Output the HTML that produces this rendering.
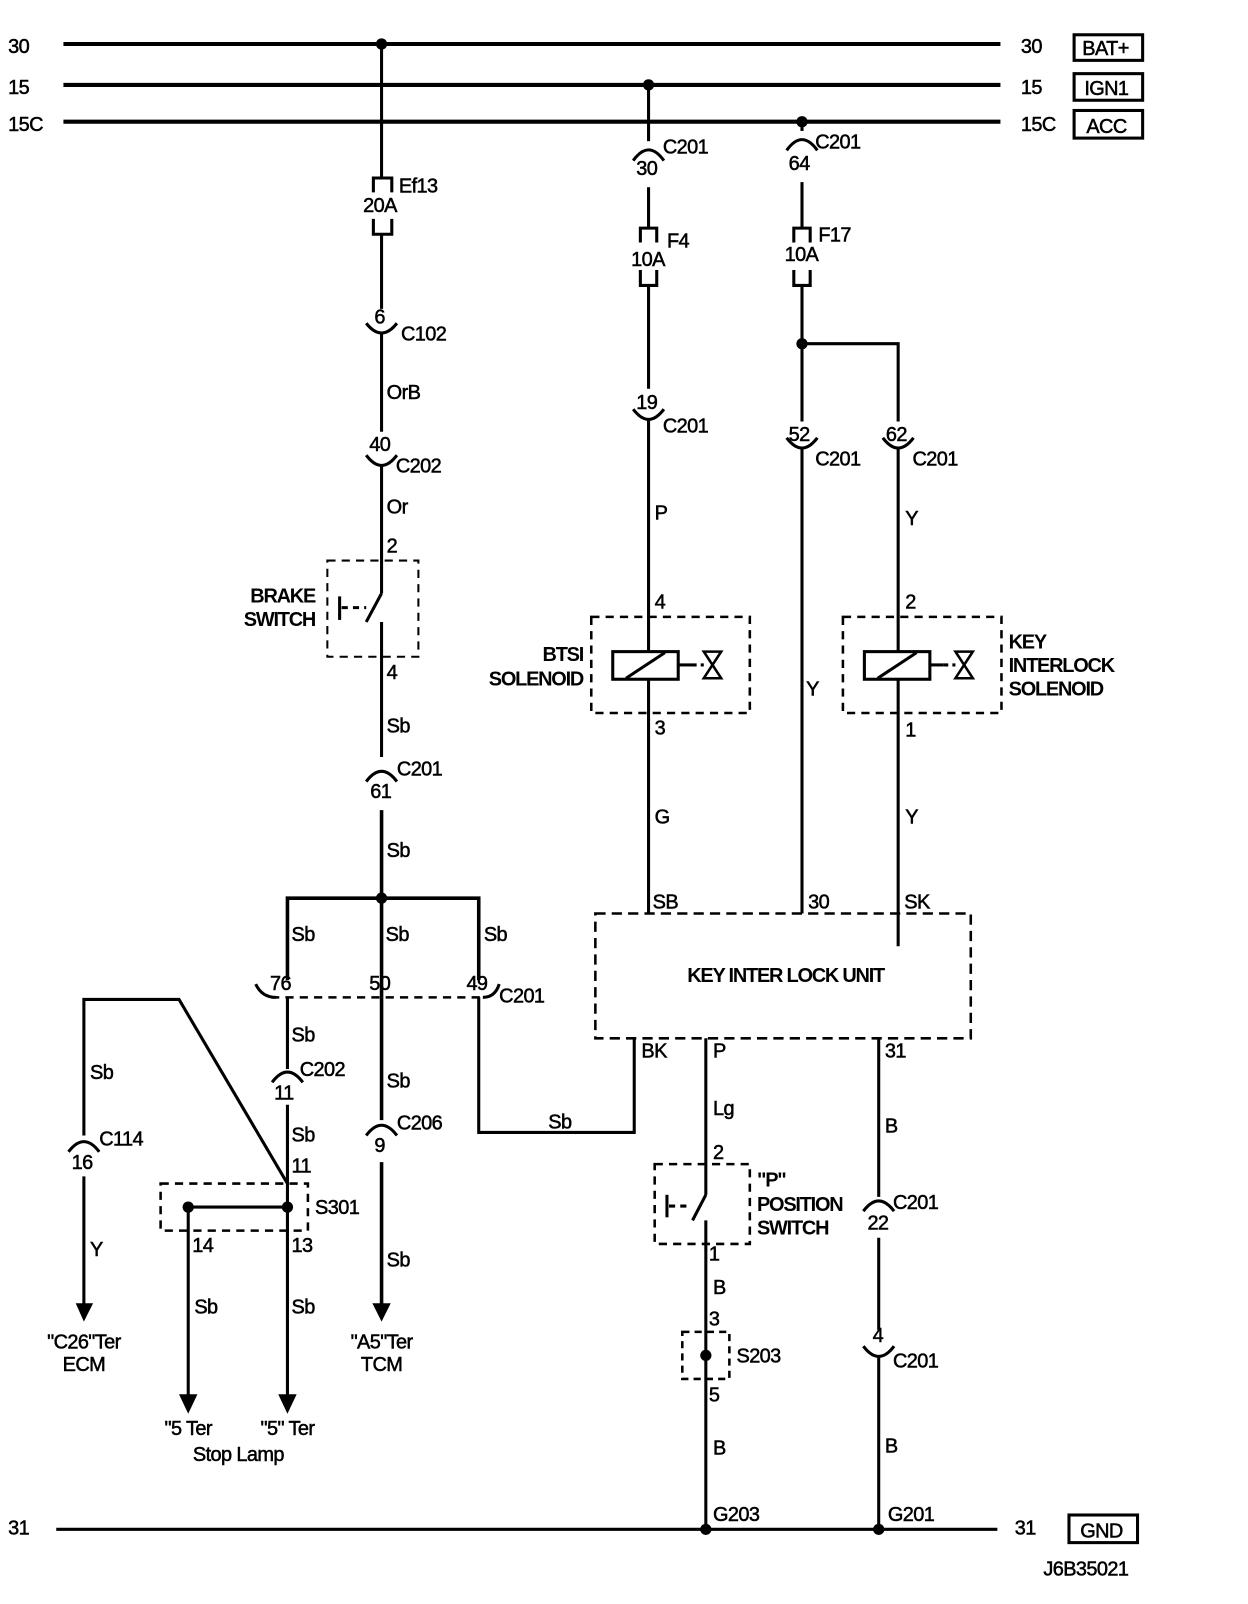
<!DOCTYPE html>
<html><head><meta charset="utf-8"><style>
html,body{margin:0;padding:0;background:#fff;}
svg{display:block;}
text{font-family:"Liberation Sans",sans-serif;font-size:19.5px;fill:#000;stroke:#000;stroke-width:0.5px;letter-spacing:-0.6px;}
.b{font-weight:bold;letter-spacing:-1.2px;stroke-width:0;}
</style></head><body>
<svg width="1248" height="1604" viewBox="0 0 1220 1568" preserveAspectRatio="none" xmlns="http://www.w3.org/2000/svg">
<g stroke="#000" stroke-width="3" fill="none">
<line x1="62" y1="43" x2="978" y2="43" stroke-width="4"/>
<line x1="62" y1="83" x2="978" y2="83" stroke-width="4"/>
<line x1="62" y1="119" x2="978" y2="119" stroke-width="4"/>
<line x1="55" y1="1495" x2="975" y2="1495" stroke-width="3"/>
<rect x="1050" y="34" width="67" height="25"/>
<rect x="1050" y="72" width="67" height="26"/>
<rect x="1050" y="108" width="67" height="27"/>
<rect x="1045" y="1481" width="67" height="27"/>

<line x1="373" y1="43" x2="373" y2="173"/>
<path d="M365 188 V174 H383 V188" stroke-width="3"/>
<path d="M365 214 V229 H383 V214" stroke-width="3"/>
<line x1="373" y1="229" x2="373" y2="302"/>
<path d="M358 316 Q373 335 388 316"/>
<line x1="373" y1="325" x2="373" y2="422"/>
<path d="M358 445 Q373 465 388 445"/>
<line x1="373" y1="455" x2="373" y2="580"/>
<line x1="373" y1="580" x2="358" y2="608"/>
<line x1="373" y1="608" x2="373" y2="740"/>
<line x1="332" y1="583" x2="332" y2="606"/>
<line x1="334" y1="594" x2="358" y2="594" stroke-dasharray="6,5"/>
<rect x="320" y="548" width="89" height="94" stroke-width="2" stroke-dasharray="8,6"/>
<path d="M358 764 Q373 744 388 764"/>
<line x1="373" y1="792" x2="373" y2="975" stroke-width="3.5"/>
<path d="M281 958 V878 H468 V958" stroke-width="3.5"/>
<line x1="373" y1="975" x2="373" y2="1095" stroke-width="3.5"/>
<path d="M358 1110 Q373 1090 388 1110"/>
<line x1="373" y1="1136" x2="373" y2="1278" stroke-width="3.5"/>

<line x1="265" y1="975" x2="472" y2="975" stroke-width="2.5" stroke-dasharray="8,6"/>
<path d="M250 962 Q256 975 270 975"/>
<path d="M472 975 Q484 975 488 962"/>

<line x1="281" y1="975" x2="281" y2="1045"/>
<path d="M266 1058 Q281 1038 296 1058"/>
<line x1="281" y1="1080" x2="281" y2="1365"/>
<rect x="157" y="1157" width="144" height="46" stroke-width="2.5" stroke-dasharray="8,6"/>
<line x1="184" y1="1180" x2="281" y2="1180"/>
<line x1="184" y1="1180" x2="184" y2="1365"/>
<path d="M82 1110 V977 H175 L281 1157"/>
<path d="M67 1126 Q82 1106 97 1126"/>
<line x1="82" y1="1150" x2="82" y2="1278"/>

<path d="M468 975 V1107 H620 V1015"/>

<line x1="634" y1="83" x2="634" y2="138"/>
<path d="M619 157 Q634 136 649 157"/>
<line x1="634" y1="183" x2="634" y2="222"/>
<path d="M626 237 V223 H642 V237" />
<path d="M626 264 V279 H642 V264" />
<line x1="634" y1="279" x2="634" y2="380"/>
<path d="M619 400 Q634 420 649 400"/>
<line x1="634" y1="409" x2="634" y2="636"/>
<rect x="599" y="637" width="64" height="27"/>
<line x1="612" y1="663" x2="650" y2="638"/>
<line x1="663" y1="650" x2="676" y2="650"/>
<line x1="676" y1="650" x2="688" y2="650" stroke-dasharray="5,4"/>
<path d="M688 637 H705 L688 663 H705 Z" stroke-width="2.5"/>
<rect x="578" y="603" width="155" height="94" stroke-width="2.5" stroke-dasharray="8,6"/>
<line x1="634" y1="664" x2="634" y2="893"/>

<line x1="784" y1="119" x2="784" y2="128"/>
<path d="M769 147 Q784 126 799 147"/>
<line x1="784" y1="178" x2="784" y2="222"/>
<path d="M776 237 V223 H792 V237"/>
<path d="M776 264 V279 H792 V264"/>
<line x1="784" y1="279" x2="784" y2="412"/>
<path d="M784 336 H878 V412"/>
<path d="M769 428 Q784 448 799 428"/>
<path d="M863 428 Q878 448 893 428"/>
<line x1="784" y1="438" x2="784" y2="893"/>
<line x1="878" y1="438" x2="878" y2="636"/>
<rect x="845" y="637" width="64" height="27"/>
<line x1="858" y1="663" x2="896" y2="638"/>
<line x1="909" y1="650" x2="922" y2="650"/>
<line x1="922" y1="650" x2="934" y2="650" stroke-dasharray="5,4"/>
<path d="M934 637 H951 L934 663 H951 Z" stroke-width="2.5"/>
<rect x="824" y="603" width="155" height="94" stroke-width="2.5" stroke-dasharray="8,6"/>
<line x1="878" y1="664" x2="878" y2="925"/>

<rect x="582" y="893" width="367" height="122" stroke-width="2.5" stroke-dasharray="10,6"/>

<line x1="690" y1="1015" x2="690" y2="1168"/>
<line x1="690" y1="1168" x2="677" y2="1193"/>
<line x1="690" y1="1193" x2="690" y2="1495"/>
<line x1="652" y1="1168" x2="652" y2="1190"/>
<line x1="654" y1="1179" x2="676" y2="1179" stroke-dasharray="6,5"/>
<rect x="640" y="1138" width="93" height="78" stroke-width="2.5" stroke-dasharray="8,6"/>
<rect x="667" y="1302" width="46" height="46" stroke-width="2.5" stroke-dasharray="7,5"/>

<line x1="859" y1="1015" x2="859" y2="1170"/>
<path d="M844 1184 Q859 1164 874 1184"/>
<line x1="859" y1="1210" x2="859" y2="1300"/>
<path d="M844 1316 Q859 1336 874 1316"/>
<line x1="859" y1="1326" x2="859" y2="1495"/>
</g>
<g fill="#000">
<circle cx="373" cy="43" r="5.5"/><circle cx="634" cy="83" r="5.5"/><circle cx="784" cy="119" r="5.5"/>
<circle cx="784" cy="336" r="5.5"/><circle cx="373" cy="878" r="5.5"/>
<circle cx="184" cy="1180" r="5.5"/><circle cx="281" cy="1180" r="5.5"/>
<circle cx="690" cy="1325" r="5.5"/><circle cx="690" cy="1495" r="5.5"/><circle cx="859" cy="1495" r="5.5"/>
<path d="M74 1274 H91 L82 1292 Z"/>
<path d="M364 1274 H382 L373 1292 Z"/>
<path d="M175 1363 H193 L184 1382 Z"/>
<path d="M272 1363 H290 L281 1382 Z"/>
</g>
<g>
<text x="8" y="52">30</text><text x="8" y="92">15</text><text x="8" y="128">15C</text>
<text x="998" y="52">30</text><text x="998" y="92">15</text><text x="998" y="128">15C</text>
<text x="1058" y="54">BAT+</text><text x="1060" y="93">IGN1</text><text x="1062" y="130">ACC</text>
<text x="1056" y="1503">GND</text>
<text x="8" y="1500">31</text><text x="992" y="1500">31</text>
<text x="1020" y="1540">J6B35021</text>

<text x="390" y="188">Ef13</text><text x="355" y="207">20A</text>
<text x="366" y="316">6</text><text x="392" y="333">C102</text>
<text x="378" y="390">OrB</text>
<text x="361" y="441">40</text><text x="387" y="462">C202</text>
<text x="378" y="502">Or</text><text x="378" y="540">2</text>
<text class="b" x="308" y="589" text-anchor="end">BRAKE</text>
<text class="b" x="308" y="612" text-anchor="end">SWITCH</text>
<text x="378" y="664">4</text><text x="378" y="716">Sb</text>
<text x="388" y="758">C201</text><text x="362" y="780">61</text>
<text x="378" y="838">Sb</text>
<text x="285" y="920">Sb</text><text x="377" y="920">Sb</text><text x="473" y="920">Sb</text>
<text x="264" y="968">76</text><text x="361" y="968">50</text><text x="456" y="968">49</text><text x="488" y="980">C201</text>
<text x="285" y="1018">Sb</text><text x="293" y="1052">C202</text><text x="268" y="1075">11</text>
<text x="285" y="1116">Sb</text><text x="285" y="1146">11</text>
<text x="308" y="1187">S301</text>
<text x="188" y="1224">14</text><text x="285" y="1224">13</text>
<text x="190" y="1284">Sb</text><text x="285" y="1284">Sb</text>
<text x="184" y="1403" text-anchor="middle">"5 Ter</text>
<text x="281" y="1403" text-anchor="middle">"5" Ter</text>
<text x="233" y="1428" text-anchor="middle">Stop Lamp</text>
<text x="88" y="1055">Sb</text><text x="97" y="1120">C114</text><text x="70" y="1143">16</text>
<text x="88" y="1228">Y</text>
<text x="82" y="1318" text-anchor="middle">"C26"Ter</text>
<text x="82" y="1340" text-anchor="middle">ECM</text>
<text x="378" y="1063">Sb</text><text x="388" y="1104">C206</text><text x="366" y="1126">9</text>
<text x="378" y="1238">Sb</text>
<text x="373" y="1318" text-anchor="middle">"A5"Ter</text>
<text x="373" y="1340" text-anchor="middle">TCM</text>
<text x="536" y="1103">Sb</text>

<text x="648" y="150">C201</text><text x="622" y="171">30</text>
<text x="652" y="242">F4</text><text x="617" y="260">10A</text>
<text x="622" y="400">19</text><text x="648" y="423">C201</text>
<text x="640" y="508">P</text><text x="640" y="595">4</text>
<text class="b" x="570" y="646" text-anchor="end">BTSI</text>
<text class="b" x="570" y="670" text-anchor="end">SOLENOID</text>
<text x="640" y="718">3</text><text x="640" y="805">G</text><text x="638" y="888">SB</text>

<text x="797" y="145">C201</text><text x="771" y="166">64</text>
<text x="800" y="236">F17</text><text x="767" y="255">10A</text>
<text x="771" y="431">52</text><text x="797" y="455">C201</text>
<text x="866" y="431">62</text><text x="892" y="455">C201</text>
<text x="885" y="513">Y</text><text x="885" y="595">2</text>
<text x="788" y="680">Y</text>
<text class="b" x="986" y="634">KEY</text>
<text class="b" x="986" y="657">INTERLOCK</text>
<text class="b" x="986" y="680">SOLENOID</text>
<text x="885" y="720">1</text><text x="885" y="805">Y</text>
<text x="790" y="888">30</text><text x="884" y="888">SK</text>
<text class="b" x="768" y="960" text-anchor="middle">KEY INTER LOCK UNIT</text>

<text x="627" y="1034">BK</text><text x="697" y="1034">P</text><text x="865" y="1034">31</text>
<text x="697" y="1090">Lg</text><text x="697" y="1133">2</text>
<text class="b" x="740" y="1160">"P"</text>
<text class="b" x="740" y="1184">POSITION</text>
<text class="b" x="740" y="1207">SWITCH</text>
<text x="693" y="1232">1</text><text x="697" y="1265">B</text><text x="693" y="1296">3</text>
<text x="720" y="1332">S203</text><text x="693" y="1370">5</text>
<text x="697" y="1422">B</text><text x="697" y="1487">G203</text>
<text x="865" y="1107">B</text><text x="873" y="1182">C201</text><text x="848" y="1202">22</text>
<text x="853" y="1312">4</text><text x="873" y="1337">C201</text>
<text x="865" y="1420">B</text><text x="868" y="1487">G201</text>
</g>
</svg>
</body></html>
